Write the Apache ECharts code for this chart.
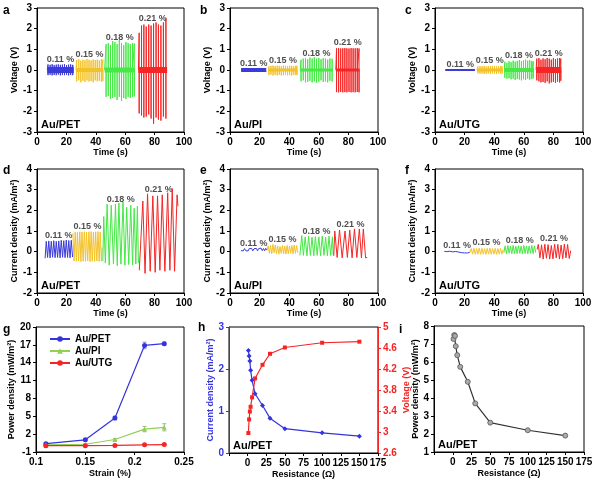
<!DOCTYPE html>
<html><head><meta charset="utf-8">
<script src="https://cdn.jsdelivr.net/npm/echarts@6.0.0/dist/echarts.min.js"></script>
<style>html,body{margin:0;padding:0;background:#fff}#c{width:597px;height:482px}</style>
</head><body><div id="c"></div>
<script>
// ---------- DATA ----------
const strainText = ['0.11 %', '0.15 %', '0.18 %', '0.21 %'];

// Panel a: Au/PET voltage spikes (time, peak, trough) per strain segment
const aRange = [[7, 25], [26.5, 45], [46, 66.5], [69, 88.5]];
const aT = [
  [7.5, 8.9, 10.3, 11.7, 13.1, 14.5, 15.9, 17.3, 18.7, 20.1, 21.5, 22.9, 24.3],
  [27, 28.4, 29.8, 31.2, 32.6, 34, 35.4, 36.8, 38.2, 39.6, 41, 42.4, 43.8, 44.8],
  [47, 48.5, 50, 51.5, 53, 54.5, 56, 57.5, 59, 60.5, 62, 63.5, 65, 66.2],
  [69.5, 71.1, 72.7, 74.3, 76, 77.6, 79.3, 81, 82.6, 84.3, 86, 87.7]
];
const aHi = [
  [0.27, 0.25, 0.28, 0.24, 0.26, 0.27, 0.25, 0.26, 0.28, 0.24, 0.26, 0.27, 0.25],
  [0.48, 0.52, 0.45, 0.5, 0.47, 0.53, 0.49, 0.46, 0.51, 0.48, 0.5, 0.47, 0.52, 0.5],
  [1.25, 1.3, 1.2, 1.4, 1.35, 1.25, 1.45, 1.3, 1.2, 1.35, 1.3, 1.25, 1.3, 1.28],
  [1.8, 2.15, 2.2, 2.1, 2.2, 2.15, 2.25, 2.3, 2.2, 2.15, 2.3, 2.5]
];
const aLo = [
  [-0.25, -0.23, -0.26, -0.24, -0.25, -0.22, -0.26, -0.24, -0.25, -0.23, -0.26, -0.24, -0.25],
  [-0.55, -0.5, -0.6, -0.52, -0.58, -0.5, -0.56, -0.53, -0.6, -0.5, -0.55, -0.52, -0.57, -0.54],
  [-1.3, -1.25, -1.4, -1.35, -1.3, -1.45, -1.3, -1.5, -1.35, -1.4, -1.3, -1.35, -1.3, -1.28],
  [-2.1, -2.2, -2.3, -2.25, -2.15, -2.35, -2.6, -2.3, -2.4, -2.45, -2.25, -2.35]
];

// Panel b: Au/PI voltage
const bRange = [[7.5, 24.5], [26, 45.5], [47.5, 69.5], [71.5, 87.5]];
const bT = [
  [8, 9.4, 10.8, 12.2, 13.6, 15, 16.4, 17.8, 19.2, 20.6, 22, 23.4, 24.3],
  [26.3, 27.7, 29.1, 30.5, 31.9, 33.3, 34.7, 36.1, 37.5, 38.9, 40.3, 41.7, 43.1, 44.5, 45.3],
  [48, 49.5, 51, 52.5, 54, 55.5, 57, 58.5, 60, 61.5, 63, 64.5, 66, 67.5, 69],
  [72, 73.4, 74.8, 76.2, 77.6, 79, 80.4, 81.8, 83.2, 84.6, 86, 87.2]
];
const bHi = [
  [0.05, 0.06, 0.04, 0.06, 0.05, 0.07, 0.05, 0.06, 0.04, 0.06, 0.05, 0.06, 0.05],
  [0.18, 0.2, 0.22, 0.19, 0.21, 0.2, 0.18, 0.22, 0.2, 0.19, 0.21, 0.2, 0.18, 0.21, 0.2],
  [0.5, 0.55, 0.58, 0.52, 0.6, 0.56, 0.62, 0.55, 0.58, 0.52, 0.57, 0.55, 0.5, 0.56, 0.54],
  [1.05, 1.06, 1.04, 1.05, 1.06, 1.05, 1.04, 1.06, 1.05, 1.05, 1.06, 1.04]
];
const bLo = [
  [-0.07, -0.08, -0.06, -0.08, -0.07, -0.09, -0.07, -0.08, -0.06, -0.08, -0.07, -0.08, -0.07],
  [-0.25, -0.22, -0.27, -0.24, -0.26, -0.23, -0.27, -0.25, -0.22, -0.26, -0.24, -0.27, -0.23, -0.25, -0.24],
  [-0.55, -0.5, -0.6, -0.58, -0.52, -0.6, -0.55, -0.62, -0.57, -0.5, -0.58, -0.55, -0.6, -0.52, -0.56],
  [-1.07, -1.08, -1.06, -1.08, -1.07, -1.08, -1.06, -1.08, -1.07, -1.08, -1.06, -1.08]
];

// Panel c: Au/UTG voltage
const cRange = [[7, 27], [28.3, 45.7], [46.8, 66.7], [68.3, 85.3]];
const cT = [
  [8, 10, 12, 14, 16, 18, 20, 22, 24, 26],
  [29, 30.4, 31.8, 33.2, 34.6, 36, 37.4, 38.8, 40.2, 41.6, 43, 44.4, 45.4],
  [47.2, 48.6, 50, 51.4, 52.8, 54.2, 55.6, 57, 58.4, 59.8, 61.2, 62.6, 64, 65.4, 66.4],
  [68.8, 70.2, 71.6, 73, 74.4, 75.8, 77.2, 78.6, 80, 81.4, 82.8, 84.2, 85]
];
const cHi = [
  [0.02, 0.02, 0.01, 0.02, 0.02, 0.01, 0.02, 0.02, 0.01, 0.02],
  [0.17, 0.19, 0.18, 0.2, 0.17, 0.19, 0.18, 0.2, 0.19, 0.17, 0.18, 0.19, 0.18],
  [0.4, 0.35, 0.42, 0.38, 0.45, 0.4, 0.44, 0.48, 0.42, 0.46, 0.5, 0.45, 0.48, 0.44, 0.42],
  [0.55, 0.58, 0.5, 0.56, 0.52, 0.58, 0.55, 0.5, 0.57, 0.53, 0.56, 0.58, 0.55]
];
const cLo = [
  [-0.02, -0.01, -0.02, -0.02, -0.01, -0.02, -0.02, -0.01, -0.02, -0.02],
  [-0.16, -0.18, -0.17, -0.19, -0.18, -0.16, -0.19, -0.17, -0.18, -0.19, -0.16, -0.18, -0.17],
  [-0.38, -0.42, -0.4, -0.45, -0.42, -0.48, -0.44, -0.46, -0.5, -0.45, -0.48, -0.42, -0.47, -0.44, -0.4],
  [-0.5, -0.55, -0.6, -0.58, -0.62, -0.55, -0.65, -0.6, -0.58, -0.62, -0.56, -0.6, -0.52]
];

// Panel d: Au/PET current density waveform (time, value)
const dT = [
  [5.5, 6.3, 7.2, 8, 8.9, 9.7, 10.6, 11.4, 12.3, 13.1, 14, 14.8, 15.7, 16.5, 17.4, 18.2, 19.1, 19.9, 20.8, 21.6, 22.5, 23.3, 24.2],
  [24.4, 25.2, 26, 26.8, 27.5, 28.3, 29.1, 29.9, 30.6, 31.4, 32.2, 33, 33.7, 34.5, 35.3, 36.1, 36.8, 37.6, 38.4, 39.2, 39.9, 40.7, 41.5, 42.3, 43, 43.8, 44.3],
  [44.8, 45.4, 46.5, 47.7, 49.1, 50.5, 52, 53.4, 54.6, 55.7, 57.1, 58.5, 59.8, 61, 62.4, 63.8, 65, 66.1, 67.2, 68.3, 69],
  [69.6, 70.5, 72, 73.5, 75.2, 77, 78.8, 80.4, 82, 83.6, 85.2, 87, 88.9, 90.4, 92, 93.6, 95.3, 95.9]
];
const dV = [
  [-0.32, 0.5, -0.28, 0.52, -0.3, 0.5, -0.27, 0.53, -0.29, 0.5, -0.28, 0.52, -0.3, 0.55, -0.27, 0.53, -0.29, 0.56, -0.28, 0.54, -0.3, 0.55, -0.26],
  [0.9, -0.45, 0.95, -0.47, 0.93, -0.45, 0.96, -0.48, 0.95, -0.46, 0.97, -0.47, 0.95, -0.45, 0.96, -0.48, 0.97, -0.46, 0.95, -0.47, 0.96, -0.45, 0.97, -0.47, 0.95, -0.46, 0.2],
  [-0.45, 1.7, -0.55, 2.3, -0.65, 2.25, -0.6, 2.3, -0.68, 2.35, -0.6, 2.4, -0.66, 2.15, -0.62, 2.25, -0.65, 2.1, -0.6, 2.2, -0.55],
  [-0.9, -0.95, 2.45, -1.05, 2.8, -0.95, 2.7, -1.0, 2.7, -0.9, 2.75, -0.95, 2.85, -0.9, 3.05, -0.95, 2.75, 2.2]
];

// Panel e: Au/PI current density
const eT = [
  [7.4, 8.2, 9, 9.8, 10.6, 11.4, 12.2, 13, 13.8, 14.6, 15.4, 16.2, 17, 17.8, 18.6, 19.4, 20.2, 21, 21.8, 22.6, 23.4, 24.2, 24.8],
  [25, 25.8, 26.6, 27.4, 28.2, 29, 29.8, 30.6, 31.4, 32.2, 33, 33.8, 34.6, 35.4, 36.2, 37, 37.8, 38.6, 39.4, 40.2, 41, 41.8, 42.6, 43.4, 44.2, 45, 45.8],
  [47.2, 48.5, 49.6, 50.8, 52, 53.1, 54.3, 55.4, 56.6, 57.7, 58.9, 60, 61.2, 62.3, 63.5, 64.6, 65.8, 66.9, 68, 69.2, 69.7],
  [70.1, 70.8, 72.4, 74, 75.8, 77.7, 79.3, 80.9, 82.5, 84.1, 85.7, 87.4, 88.8, 90.1, 91.6, 92.7]
];
const eV = [
  [0.05, 0.14, 0.04, 0.15, 0.05, 0.13, 0.03, 0.15, 0.06, 0.16, 0.04, 0.14, 0.05, 0.16, 0.04, 0.15, 0.06, 0.17, 0.05, 0.15, 0.04, 0.16, 0.08],
  [0.05, 0.28, -0.08, 0.3, -0.1, 0.35, -0.05, 0.32, -0.1, 0.28, -0.12, 0.25, -0.08, 0.3, -0.1, 0.27, -0.12, 0.3, -0.1, 0.28, -0.08, 0.3, -0.1, 0.32, -0.08, 0.3, -0.05],
  [-0.18, 0.78, -0.18, 0.72, -0.2, 0.75, -0.18, 0.7, -0.2, 0.73, -0.18, 0.72, -0.2, 0.75, -0.18, 0.7, -0.2, 0.75, -0.18, 0.72, -0.15],
  [-0.2, 1.0, -0.28, 1.05, -0.3, 1.0, -0.28, 1.05, -0.3, 1.1, -0.28, 1.1, -0.3, 1.1, -0.3, -0.28]
];

// Panel f: Au/UTG current density
const fT = [
  [6.3, 8, 10, 12, 14, 16, 18, 19, 20, 21, 22, 23.6],
  [23.6, 24.5, 25.4, 26.3, 27.2, 28.1, 29, 29.9, 30.8, 31.7, 32.6, 33.5, 34.4, 35.3, 36.2, 37.1, 38, 38.9, 39.8, 40.7, 41.6, 42.5, 43.4, 44.3, 45.2, 46],
  [46.5, 47.4, 48.3, 49.2, 50.1, 51, 51.9, 52.8, 53.7, 54.6, 55.5, 56.4, 57.3, 58.2, 59.1, 60, 60.9, 61.8, 62.7, 63.6, 64.5, 65.4, 66.3, 67.2, 68.1],
  [69, 69.8, 70.9, 72, 73.1, 74.2, 75.3, 76.4, 77.5, 78.6, 79.7, 80.8, 81.9, 83, 84.1, 85.2, 86.3, 87.4, 88.5, 89.6, 90.7, 91.7]
];
const fV = [
  [0.02, 0.0, 0.02, -0.01, 0.01, -0.02, -0.05, -0.03, -0.06, -0.04, -0.06, -0.03],
  [-0.05, 0.15, -0.12, 0.16, -0.13, 0.15, -0.12, 0.17, -0.13, 0.16, -0.12, 0.15, -0.13, 0.16, -0.12, 0.17, -0.13, 0.15, -0.12, 0.16, -0.13, 0.15, -0.12, 0.16, -0.12, 0.1],
  [-0.05, 0.28, -0.1, 0.3, -0.08, 0.27, -0.1, 0.3, -0.09, 0.26, -0.1, 0.29, -0.08, 0.27, -0.1, 0.3, -0.09, 0.28, -0.1, 0.27, -0.08, 0.3, -0.1, 0.28, -0.05],
  [0.1, 0.35, -0.3, 0.33, -0.36, 0.36, -0.32, 0.34, -0.36, 0.3, -0.35, 0.36, -0.3, 0.35, -0.36, 0.32, -0.34, 0.36, -0.3, 0.35, -0.33, 0.05]
];

// Panel g: power density vs strain
const strain = [0.11, 0.15, 0.18, 0.21, 0.23];
const gPET = [0.4, 1.05, 4.7, 16.9, 17.2];
const gPETerr = [0.1, 0.15, 0.3, 0.55, 0.25];
const gPI = [0.2, 0.3, 1.1, 2.85, 3.15];
const gPIerr = [0.05, 0.08, 0.15, 0.45, 0.6];
const gUTG = [0.06, 0.06, 0.1, 0.2, 0.25];
const gUTGerr = [0.04, 0.04, 0.05, 0.06, 0.06];

// Panels h, i: load resistance sweep (Au/PET)
const resistance = [1, 2, 3, 4, 6, 10, 20, 30, 50, 100, 150];
const hCurrent = [2.44, 2.31, 2.19, 1.97, 1.73, 1.41, 1.13, 0.83, 0.58, 0.48, 0.40];
const hVoltage = [2.98, 3.24, 3.39, 3.48, 3.66, 4.02, 4.28, 4.49, 4.61, 4.70, 4.72];
const iPower = [7.28, 7.5, 7.45, 6.88, 6.38, 5.73, 4.9, 3.7, 2.63, 2.21, 1.91];

// ---------- STYLE / LAYOUT ----------
const FONT = '"Liberation Sans", Arial, sans-serif';
const TICK_FS = 10, NAME_FS = 9;
const segColors = ['#3b3bd8', '#f3c22a', '#45e845', '#f52525'];
const BLUE = '#3434dc', RED = '#f52525', GREEN = '#92d050';
const grids = [
  {left: 37, top: 8, width: 147, height: 124},
  {left: 230, top: 8, width: 148, height: 124},
  {left: 435, top: 8, width: 148, height: 124},
  {left: 37, top: 169, width: 147, height: 124},
  {left: 230, top: 169, width: 148, height: 124},
  {left: 435, top: 169, width: 148, height: 124},
  {left: 36, top: 327, width: 148, height: 125},
  {left: 229, top: 327, width: 149, height: 126},
  {left: 434, top: 326, width: 150, height: 126}
];

function axis(o) {
  const color = o.color || '#000';
  return {
    type: 'value', gridIndex: o.grid, min: o.min, max: o.max, interval: o.interval,
    position: o.position, name: o.name, nameLocation: 'middle', nameGap: o.gap, nameRotate: o.rotate,
    nameTextStyle: {color: color, fontFamily: FONT, fontWeight: 'bold', fontSize: NAME_FS},
    axisLine: {show: true, onZero: false, lineStyle: {color: color, width: 1}},
    axisTick: {show: true, length: 3, lineStyle: {color: color}},
    axisLabel: {color: color, fontFamily: FONT, fontWeight: 'bold', fontSize: TICK_FS, margin: o.margin || 5,
      formatter: o.fmt},
    splitLine: {show: false}
  };
}

function median(arr) {
  const s = arr.slice().sort((a, b) => a - b);
  const m = Math.floor(s.length / 2);
  return s.length % 2 ? s[m] : (s[m - 1] + s[m]) / 2;
}
function upperQuart(arr) {
  const s = arr.slice().sort((a, b) => a - b);
  return s[Math.floor(s.length * 0.75)];
}

const xAxes = [], yAxes = [], series = [];
// time axes a-f
for (let g = 0; g < 6; g++) {
  xAxes.push(axis({grid: g, min: 0, max: 100, interval: 20, name: 'Time (s)', gap: 14}));
  if (g < 3) yAxes.push(axis({grid: g, min: -3, max: 3, interval: 1, name: 'Voltage (V)', gap: 15, rotate: 90}));
  else yAxes.push(axis({grid: g, min: -2, max: 4, interval: 1, name: 'Current density (mA/m²)', gap: 14.5, rotate: 90}));
}
// g
xAxes.push(axis({grid: 6, min: 0.1, max: 0.25, interval: 0.05, name: 'Strain (%)', gap: 17}));
yAxes.push(axis({grid: 6, min: -1, max: 20, interval: 3, name: 'Power density (mW/m²)', gap: 14, rotate: 90}));
// h
const hideNeg = v => (v < 0 ? '' : v);
xAxes.push(axis({grid: 7, min: -25, max: 175, interval: 25, name: 'Resistance (Ω)', gap: 17, fmt: hideNeg}));
yAxes.push(axis({grid: 7, min: 0, max: 3, interval: 1, name: 'Current density (mA/m²)', gap: 14, rotate: 90, color: BLUE}));
yAxes.push(axis({grid: 7, min: 2.6, max: 5, interval: 0.4, name: 'Voltage (V)', gap: 24, rotate: 90, color: RED, position: 'right'}));
// i
xAxes.push(axis({grid: 8, min: -25, max: 175, interval: 25, name: 'Resistance (Ω)', gap: 17, fmt: hideNeg}));
yAxes.push(axis({grid: 8, min: 1, max: 8, interval: 1, name: 'Power density (mW/m²)', gap: 13, rotate: 90}));

const base = {silent: true, animation: false, showSymbol: false};

function labelSeries(g, yi, pts) {
  series.push({
    type: 'scatter', xAxisIndex: g, yAxisIndex: yi, silent: true, animation: false,
    symbolSize: 0.1, itemStyle: {color: 'rgba(0,0,0,0)'},
    label: {show: true, position: 'top', distance: 1, color: '#222', fontFamily: FONT, fontWeight: 'bold', fontSize: 9,
      formatter: p => strainText[p.dataIndex]},
    data: pts
  });
}

// voltage panels
const voltPanels = [
  {T: aT, Hi: aHi, Lo: aLo, R: aRange, band: [6, 4, 5, 6]},
  {T: bT, Hi: bHi, Lo: bLo, R: bRange, band: [4, 3, 3, 3]},
  {T: cT, Hi: cHi, Lo: cLo, R: cRange, band: [2, 3, 4, 6]}
];
voltPanels.forEach((P, g) => {
  const lab = [];
  for (let k = 0; k < 4; k++) {
    const d = [[P.R[k][0], 0]];
    P.T[k].forEach((t, i) => { d.push([t, 0], [t, P.Hi[k][i]], [t, P.Lo[k][i]], [t, 0]); });
    d.push([P.R[k][1], 0]);
    series.push(Object.assign({type: 'line', xAxisIndex: g, yAxisIndex: g, data: d,
      lineStyle: {color: segColors[k], width: 1}}, base));
    series.push(Object.assign({type: 'line', xAxisIndex: g, yAxisIndex: g, data: [[P.R[k][0], 0], [P.R[k][1], 0]],
      lineStyle: {color: segColors[k], width: P.band[k]}}, base));
    lab.push([(P.R[k][0] + P.R[k][1]) / 2, median(P.Hi[k])]);
  }
  labelSeries(g, g, lab);
});

// current panels
const curPanels = [{T: dT, V: dV}, {T: eT, V: eV}, {T: fT, V: fV}];
curPanels.forEach((P, j) => {
  const g = j + 3;
  const lab = [];
  for (let k = 0; k < 4; k++) {
    const d = P.T[k].map((t, i) => [t, P.V[k][i]]);
    series.push(Object.assign({type: 'line', xAxisIndex: g, yAxisIndex: g, data: d,
      lineStyle: {color: segColors[k], width: 1}}, base));
    const t = P.T[k];
    lab.push([(t[0] + t[t.length - 1]) / 2, upperQuart(P.V[k])]);
  }
  labelSeries(g, g, lab);
});

// g panel
function errSeries(vals, errs, color) {
  return {
    type: 'custom', xAxisIndex: 6, yAxisIndex: 6, silent: true, animation: false, z: 1,
    data: strain.map((s, i) => [s, vals[i], errs[i]]),
    renderItem: (params, api) => {
      const x = api.value(0), y = api.value(1), e = api.value(2);
      const p1 = api.coord([x, y + e]), p2 = api.coord([x, y - e]);
      const st = {stroke: color, lineWidth: 1};
      return {type: 'group', children: [
        {type: 'line', shape: {x1: p1[0], y1: p1[1], x2: p2[0], y2: p2[1]}, style: st},
        {type: 'line', shape: {x1: p1[0] - 2, y1: p1[1], x2: p1[0] + 2, y2: p1[1]}, style: st},
        {type: 'line', shape: {x1: p2[0] - 2, y1: p2[1], x2: p2[0] + 2, y2: p2[1]}, style: st}
      ]};
    }
  };
}
series.push(errSeries(gPET, gPETerr, '#8a8ac8'));
series.push(errSeries(gPI, gPIerr, '#a0b890'));
series.push(errSeries(gUTG, gUTGerr, '#d08080'));
const gLines = [
  {name: 'Au/PET', vals: gPET, color: BLUE, symbol: 'circle'},
  {name: 'Au/PI', vals: gPI, color: GREEN, symbol: 'triangle'},
  {name: 'Au/UTG', vals: gUTG, color: RED, symbol: 'circle'}
];
gLines.forEach(L => {
  series.push({type: 'line', name: L.name, xAxisIndex: 6, yAxisIndex: 6, animation: false, z: 3,
    data: strain.map((s, i) => [s, L.vals[i]]), symbol: L.symbol, symbolSize: 5, showSymbol: true,
    lineStyle: {color: L.color, width: 1.2}, itemStyle: {color: L.color}});
});

// h panel
series.push({type: 'line', name: 'hCurrent', xAxisIndex: 7, yAxisIndex: 7, animation: false,
  data: resistance.map((r, i) => [r, hCurrent[i]]), symbol: 'diamond', symbolSize: 5,
  lineStyle: {color: BLUE, width: 1.2}, itemStyle: {color: BLUE}});
series.push({type: 'line', name: 'hVoltage', xAxisIndex: 7, yAxisIndex: 8, animation: false,
  data: resistance.map((r, i) => [r, hVoltage[i]]), symbol: 'rect', symbolSize: 4,
  lineStyle: {color: RED, width: 1.2}, itemStyle: {color: RED}});
// i panel
series.push({type: 'line', name: 'iPower', xAxisIndex: 8, yAxisIndex: 9, animation: false,
  data: resistance.map((r, i) => [r, iPower[i]]), symbol: 'circle', symbolSize: 5,
  lineStyle: {color: '#333', width: 1.2}, itemStyle: {color: '#aaa', borderColor: '#555', borderWidth: 0.8}});

// annotations
const letters = [['a', 7, 12], ['b', 204, 12], ['c', 409, 12], ['d', 7, 172], ['e', 204, 172], ['f', 409, 172],
  ['g', 7, 331], ['h', 202, 329], ['i', 403, 331]];
const samples = ['Au/PET', 'Au/PI', 'Au/UTG', 'Au/PET', 'Au/PI', 'Au/UTG', null, 'Au/PET', 'Au/PET'];
const graphic = [];
letters.forEach(l => graphic.push({type: 'text', left: l[1] - 4, top: l[2] - 7,
  style: {text: l[0], font: 'bold 12px ' + FONT, fill: '#000'}}));
samples.forEach((s, g) => {
  if (!s) return;
  const G = grids[g];
  graphic.push({type: 'text', x: G.left + 4, y: G.top + G.height - 2,
    style: {text: s, font: 'bold 11px ' + FONT, fill: '#000', textVerticalAlign: 'bottom'}});
});

const chart = echarts.init(document.getElementById('c'), null, {renderer: 'canvas'});
chart.setOption({
  backgroundColor: '#fff',
  animation: false,
  grid: grids.map(g => Object.assign({show: true, borderColor: '#000', borderWidth: 1, containLabel: false}, g)),
  xAxis: xAxes,
  yAxis: yAxes,
  legend: {data: ['Au/PET', 'Au/PI', 'Au/UTG'], orient: 'vertical', left: 44, top: 329,
    itemWidth: 20, itemHeight: 7, itemGap: 2,
    textStyle: {fontFamily: FONT, fontWeight: 'bold', fontSize: 10, color: '#000'}},
  graphic: graphic,
  series: series
});
</script></body></html>
